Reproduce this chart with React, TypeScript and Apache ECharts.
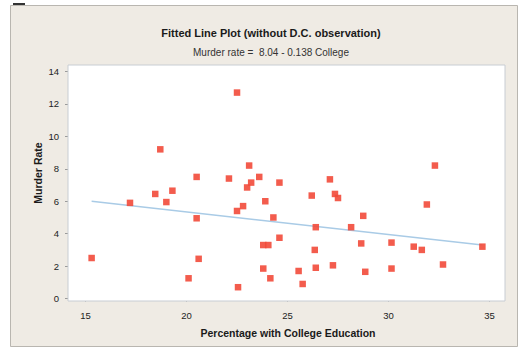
import React, { useEffect, useRef } from "react";
import * as echarts from "echarts";

const collegeX: number[] = [
  15.3, 17.2, 18.7, 18.45, 19.3, 19.0, 20.5, 20.5, 20.6, 20.1,
  22.5, 22.1, 22.55, 22.5, 22.8, 23.1, 23.0, 23.2, 23.6, 24.6,
  23.9, 24.3, 24.6, 23.8, 24.05, 23.8, 24.15, 25.55, 25.75, 26.4,
  26.35, 26.4, 26.2, 27.1, 27.35, 27.5, 27.25, 28.15, 28.75, 28.65,
  28.85, 30.15, 30.15, 31.25, 31.65, 31.9, 32.3, 32.7, 34.65,
];
const murderY: number[] = [
  2.5, 5.9, 9.2, 6.45, 6.65, 5.95, 7.5, 4.95, 2.45, 1.25,
  12.7, 7.4, 0.7, 5.4, 5.7, 8.2, 6.85, 7.15, 7.5, 7.15,
  6.0, 5.0, 3.75, 3.3, 3.3, 1.85, 1.25, 1.7, 0.9, 1.9,
  3.0, 4.4, 6.35, 7.35, 6.45, 6.2, 2.05, 4.4, 5.1, 3.4,
  1.65, 3.45, 1.85, 3.2, 3.0, 5.8, 8.2, 2.1, 3.2,
];
const fitX: number[] = [15.3, 34.65];
const fitY: number[] = [6.0, 3.3];
const xTicks: number[] = [15, 20, 25, 30, 35];
const yTicks: number[] = [0, 2, 4, 6, 8, 10, 12, 14];

const titleText = "Fitted Line Plot (without D.C. observation)";
const subtitleText = "Murder rate =  8.04 - 0.138 College";
const xName = "Percentage with College Education";
const yName = "Murder Rate";

export default function App() {
  const ref = useRef<HTMLDivElement>(null);
  useEffect(() => {
    if (!ref.current) return;
    const chart = echarts.init(ref.current, null, { renderer: "svg" });
    const font = "'Liberation Sans', Arial, sans-serif";
    chart.setOption({
      animation: false,
      backgroundColor: "#ffffff",
      textStyle: { fontFamily: font },
      grid: {
        left: 68,
        top: 65,
        right: 14,
        bottom: 48,
        show: true,
        backgroundColor: "#ffffff",
        borderColor: "#c8cdd3",
        borderWidth: 1,
        z: 2,
      },
      graphic: [
        {
          type: "rect",
          z: -100,
          shape: { x: 10.5, y: 5.5, width: 507, height: 341 },
          style: { fill: "#efebe4", stroke: "#b9b6b0", lineWidth: 1 },
        },
        {
          type: "rect",
          z: -90,
          shape: { x: 13, y: 3, width: 12, height: 2 },
          style: { fill: "#333333" },
        },
        {
          type: "text",
          x: 271,
          y: 33,
          style: {
            text: titleText,
            fontFamily: font,
            fontSize: 11,
            fontWeight: "bold",
            fill: "#1a1a1a",
            textAlign: "center",
            textVerticalAlign: "middle",
          },
        },
        {
          type: "text",
          x: 271,
          y: 52,
          style: {
            text: subtitleText,
            fontFamily: font,
            fontSize: 10,
            fill: "#333333",
            textAlign: "center",
            textVerticalAlign: "middle",
          },
        },
        {
          type: "text",
          x: 288,
          y: 333,
          style: {
            text: xName,
            fontFamily: font,
            fontSize: 10.5,
            fontWeight: "bold",
            fill: "#1a1a1a",
            textAlign: "center",
            textVerticalAlign: "middle",
          },
        },
        {
          type: "text",
          x: 38,
          y: 173,
          rotation: Math.PI / 2,
          style: {
            text: yName,
            fontFamily: font,
            fontSize: 10.5,
            fontWeight: "bold",
            fill: "#1a1a1a",
            textAlign: "center",
            textVerticalAlign: "middle",
          },
        },
      ],
      xAxis: {
        type: "value",
        min: 14.13,
        max: 35.77,
        axisLine: { show: false },
        splitLine: { show: false },
        axisTick: {
          show: true,
          length: 3,
          customValues: xTicks,
          lineStyle: { color: "#9a9a9a" },
        },
        axisLabel: {
          customValues: xTicks,
          color: "#222222",
          fontSize: 9.5,
          fontFamily: font,
          margin: 9,
        },
      },
      yAxis: {
        type: "value",
        min: -0.15,
        max: 14.4,
        axisLine: { show: false },
        splitLine: { show: false },
        axisTick: {
          show: true,
          length: 3,
          customValues: yTicks,
          lineStyle: { color: "#9a9a9a" },
        },
        axisLabel: {
          customValues: yTicks,
          color: "#222222",
          fontSize: 9.5,
          fontFamily: font,
          margin: 9,
        },
      },
      series: [
        {
          type: "line",
          data: fitX.map((x, i) => [x, fitY[i]]),
          showSymbol: false,
          symbol: "none",
          lineStyle: { color: "#a9cbe6", width: 1.5 },
          z: 3,
        },
        {
          type: "scatter",
          data: collegeX.map((x, i) => [x, murderY[i]]),
          symbol: "rect",
          symbolSize: 6.5,
          itemStyle: { color: "#f24a3a", opacity: 0.9 },
          z: 4,
        },
      ],
    });
    return () => chart.dispose();
  }, []);
  return (
    <div
      ref={ref}
      style={{ position: "fixed", left: 0, top: 0, width: 519, height: 349 }}
    />
  );
}
